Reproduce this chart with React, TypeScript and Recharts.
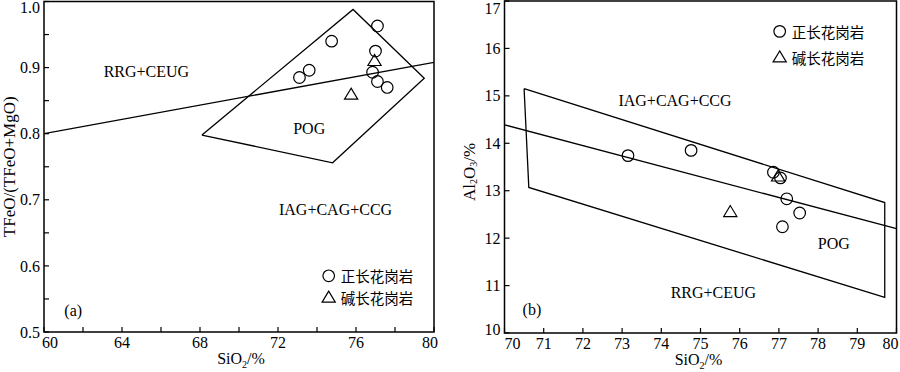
import React from 'react';
import { ScatterChart, Scatter, XAxis, YAxis, ReferenceArea, ReferenceDot, Label } from 'recharts';

const SERIF = '"Liberation Serif", "Times New Roman", serif';
const CJK = '"Noto Sans CJK SC", "Noto Sans CJK JP", sans-serif';

// ---------- Panel (a): SiO2 vs TFeO/(TFeO+MgO) ----------
const aXTicks = [60, 62, 64, 66, 68, 70, 72, 74, 76, 78, 80];
const aXTickLabels = [60, 64, 68, 72, 76, 80];
const aYTicks = [0.5, 0.55, 0.6, 0.65, 0.7, 0.75, 0.8, 0.85, 0.9, 0.95, 1.0];
const aYTickLabels = [0.5, 0.6, 0.7, 0.8, 0.9, 1.0];

const aOrthoSiO2 = [73.1, 73.6, 74.75, 77.1, 77.0, 76.85, 77.1, 77.6];
const aOrthoRatio = [0.885, 0.896, 0.94, 0.963, 0.925, 0.893, 0.879, 0.87];
const aAlkSiO2 = [76.95, 75.75];
const aAlkRatio = [0.91, 0.859];

const aDivideSiO2 = [60, 80];
const aDivideRatio = [0.8, 0.908];
const aPogSiO2 = [68.1, 75.85, 79.5, 74.8, 68.1];
const aPogRatio = [0.798, 0.988, 0.884, 0.756, 0.798];

const aRegionText = ['RRG+CEUG', 'POG', 'IAG+CAG+CCG', '(a)'];
const aRegionSiO2 = [65.25, 73.6, 74.95, 61.5];
const aRegionRatio = [0.894, 0.808, 0.685, 0.533];

// ---------- Panel (b): SiO2 vs Al2O3 ----------
const bXTicks = [70, 71, 72, 73, 74, 75, 76, 77, 78, 79, 80];
const bYTicks = [10, 11, 12, 13, 14, 15, 16, 17];

const bOrthoSiO2 = [73.15, 74.76, 76.86, 77.04, 77.2, 77.53, 77.09];
const bOrthoAl = [13.74, 13.85, 13.39, 13.27, 12.83, 12.53, 12.24];
const bAlkSiO2 = [76.98, 75.76];
const bAlkAl = [13.3, 12.55];

const bDivideSiO2 = [70, 80];
const bDivideAl = [14.39, 12.2];
const bPogSiO2 = [70.5, 79.7, 79.7, 70.62, 70.5];
const bPogAl = [15.15, 12.75, 10.75, 13.07, 15.15];

const bRegionText = ['IAG+CAG+CCG', 'POG', 'RRG+CEUG', '(b)'];
const bRegionSiO2 = [74.35, 78.4, 75.33, 70.7];
const bRegionAl = [14.91, 11.88, 10.86, 10.49];

const legendNames = ['正长花岗岩', '碱长花岗岩'];

const zip = (xs: number[], ys: number[]) => xs.map((x, i) => ({ x, y: ys[i] }));

const CircleMark = (p: any) => (
  <circle cx={p.cx} cy={p.cy} r={5.8} fill="none" stroke="#000" strokeWidth={1.2} />
);
const TriMark = (p: any) => (
  <polygon
    points={`${p.cx},${p.cy - 6.5} ${p.cx - 6.6},${p.cy + 4.5} ${p.cx + 6.6},${p.cy + 4.5}`}
    fill="none"
    stroke="#000"
    strokeWidth={1.2}
  />
);
const NoMark = () => <g />;

const textMark = (txt: string) => (p: any) => (
  <text x={p.cx} y={p.cy} textAnchor="middle" dominantBaseline="central" style={{ fontFamily: SERIF }} fontSize={16} fill="#000">
    {txt}
  </text>
);

const legendMark = (kind: 'circle' | 'tri', txt: string) => (p: any) => (
  <g>
    {kind === 'circle' ? CircleMark({ cx: p.cx, cy: p.cy }) : TriMark({ cx: p.cx, cy: p.cy })}
    <text x={p.cx + 12} y={p.cy} dominantBaseline="central" style={{ fontFamily: CJK }} fontSize={14.5} fill="#000">
      {txt}
    </text>
  </g>
);

function makeXTick(labels: number[] | null, first: number, last: number, dFirst: number, dLast: number) {
  return (props: any) => {
    const { x, y, payload } = props;
    const v = payload.value;
    const show = labels === null || labels.some((l) => Math.abs(l - v) < 1e-6);
    let dx = 0;
    if (Math.abs(v - first) < 1e-6) dx = dFirst;
    if (Math.abs(v - last) < 1e-6) dx = dLast;
    return (
      <g>
        <line x1={x} y1={y} x2={x} y2={y - 5} stroke="#000" strokeWidth={1.2} />
        {show && (
          <text x={x + dx} y={y + 16} textAnchor="middle" style={{ fontFamily: SERIF }} fontSize={16} fill="#000">
            {v}
          </text>
        )}
      </g>
    );
  };
}

function makeYTick(labels: number[] | null, decimals: number, first: number, last: number, dFirst: number, dLast: number) {
  return (props: any) => {
    const { x, y, payload } = props;
    const v = payload.value;
    const show = labels === null || labels.some((l) => Math.abs(l - v) < 1e-6);
    let dy = 0;
    if (Math.abs(v - first) < 1e-6) dy = dFirst;
    if (Math.abs(v - last) < 1e-6) dy = dLast;
    return (
      <g>
        <line x1={x} y1={y} x2={x + 5} y2={y} stroke="#000" strokeWidth={1.2} />
        {show && (
          <text x={x - 4} y={y + dy} dy="0.35em" textAnchor="end" style={{ fontFamily: SERIF }} fontSize={16} fill="#000">
            {v.toFixed(decimals)}
          </text>
        )}
      </g>
    );
  };
}

const XTitle = (dx: number) => (props: any) => {
  const vb = props.viewBox || { x: 0, y: 0, width: 0, height: 0 };
  return (
    <text x={vb.x + vb.width / 2 + dx} y={vb.y + 32} textAnchor="middle" style={{ fontFamily: SERIF }} fontSize={16} fill="#000">
      <tspan>SiO</tspan>
      <tspan fontSize={10} dy={4}>2</tspan>
      <tspan dy={-4}>/%</tspan>
    </text>
  );
};

const YTitleA = (props: any) => {
  const vb = props.viewBox || { x: 0, y: 0, width: 0, height: 0 };
  const cx = vb.x + 9.5;
  const cy = vb.y + vb.height / 2;
  return (
    <text
      x={cx}
      y={cy}
      transform={`rotate(-90, ${cx}, ${cy})`}
      textAnchor="middle"
      dominantBaseline="central"
      style={{ fontFamily: SERIF }}
      fontSize={17}
      fill="#000"
    >
      TFeO/(TFeO+MgO)
    </text>
  );
};

const YTitleB = (props: any) => {
  const vb = props.viewBox || { x: 0, y: 0, width: 0, height: 0 };
  const cx = vb.x + 19;
  const cy = vb.y + vb.height / 2 + 5;
  return (
    <text
      x={cx}
      y={cy}
      transform={`rotate(-90, ${cx}, ${cy})`}
      textAnchor="middle"
      dominantBaseline="central"
      style={{ fontFamily: SERIF }}
      fontSize={17}
      fill="#000"
    >
      <tspan>Al</tspan>
      <tspan fontSize={10} dy={4}>2</tspan>
      <tspan dy={-4}>O</tspan>
      <tspan fontSize={10} dy={4}>3</tspan>
      <tspan dy={-4}>/%</tspan>
    </text>
  );
};

function PanelA() {
  return (
    <ScatterChart width={450} height={372} margin={{ top: 1.5, right: 16, bottom: 10, left: 0 }}>
      <XAxis
        type="number"
        dataKey="x"
        domain={[60, 80]}
        ticks={aXTicks}
        interval={0}
        allowDataOverflow
        axisLine={false}
        tickLine={false}
        tickSize={0}
        tickMargin={0}
        height={30}
        tick={makeXTick(aXTickLabels, 60, 80, 6, -4)}
        label={<Label content={XTitle(2)} />}
      />
      <YAxis
        type="number"
        dataKey="y"
        domain={[0.5, 1.0]}
        ticks={aYTicks}
        interval={0}
        allowDataOverflow
        axisLine={false}
        tickLine={false}
        tickSize={0}
        tickMargin={0}
        width={44}
        tick={makeYTick(aYTickLabels, 1, 0.5, 1.0, 0, 6)}
        label={<Label content={YTitleA} />}
      />
      <ReferenceArea x1={60} x2={80} y1={0.5} y2={1.0} fill="none" stroke="#000" strokeWidth={1.5} ifOverflow="visible" />
      <Scatter data={zip(aDivideSiO2, aDivideRatio)} line={{ stroke: '#000', strokeWidth: 1.3 }} shape={NoMark} isAnimationActive={false} />
      <Scatter data={zip(aPogSiO2, aPogRatio)} line={{ stroke: '#000', strokeWidth: 1.3 }} shape={NoMark} isAnimationActive={false} />
      <Scatter data={zip(aOrthoSiO2, aOrthoRatio)} shape={CircleMark} isAnimationActive={false} />
      <Scatter data={zip(aAlkSiO2, aAlkRatio)} shape={TriMark} isAnimationActive={false} />
      {aRegionText.map((t, i) => (
        <ReferenceDot key={t} x={aRegionSiO2[i]} y={aRegionRatio[i]} r={0} shape={textMark(t)} />
      ))}
      <ReferenceDot x={74.6} y={0.585} r={0} shape={legendMark('circle', legendNames[0])} />
      <ReferenceDot x={74.6} y={0.552} r={0} shape={legendMark('tri', legendNames[1])} />
    </ScatterChart>
  );
}

function PanelB() {
  return (
    <ScatterChart width={450} height={372} margin={{ top: 1, right: 3.5, bottom: 9, left: 0 }}>
      <XAxis
        type="number"
        dataKey="x"
        domain={[70, 80]}
        ticks={bXTicks}
        interval={0}
        allowDataOverflow
        axisLine={false}
        tickLine={false}
        tickSize={0}
        tickMargin={0}
        height={30}
        tick={makeXTick(null, 70, 80, 8, -6)}
        label={<Label content={XTitle(-2)} />}
      />
      <YAxis
        type="number"
        dataKey="y"
        domain={[10, 17]}
        ticks={bYTicks}
        interval={0}
        allowDataOverflow
        axisLine={false}
        tickLine={false}
        tickSize={0}
        tickMargin={0}
        width={54.5}
        tick={makeYTick(null, 0, 10, 17, -4, 7)}
        label={<Label content={YTitleB} />}
      />
      <ReferenceArea x1={70} x2={80} y1={10} y2={17} fill="none" stroke="#000" strokeWidth={1.5} ifOverflow="visible" />
      <Scatter data={zip(bDivideSiO2, bDivideAl)} line={{ stroke: '#000', strokeWidth: 1.3 }} shape={NoMark} isAnimationActive={false} />
      <Scatter data={zip(bPogSiO2, bPogAl)} line={{ stroke: '#000', strokeWidth: 1.3 }} shape={NoMark} isAnimationActive={false} />
      <Scatter data={zip(bOrthoSiO2, bOrthoAl)} shape={CircleMark} isAnimationActive={false} />
      <Scatter data={zip(bAlkSiO2, bAlkAl)} shape={TriMark} isAnimationActive={false} />
      {bRegionText.map((t, i) => (
        <ReferenceDot key={t} x={bRegionSiO2[i]} y={bRegionAl[i]} r={0} shape={textMark(t)} />
      ))}
      <ReferenceDot x={77.02} y={16.36} r={0} shape={legendMark('circle', legendNames[0])} />
      <ReferenceDot x={77.02} y={15.81} r={0} shape={legendMark('tri', legendNames[1])} />
    </ScatterChart>
  );
}

export default function App() {
  return (
    <div style={{ position: 'absolute', left: 0, top: 0, width: 900, height: 372, background: '#fff', overflow: 'hidden' }}>
      <div style={{ position: 'absolute', left: 0, top: 0 }}>
        <PanelA />
      </div>
      <div style={{ position: 'absolute', left: 450, top: 0 }}>
        <PanelB />
      </div>
    </div>
  );
}
